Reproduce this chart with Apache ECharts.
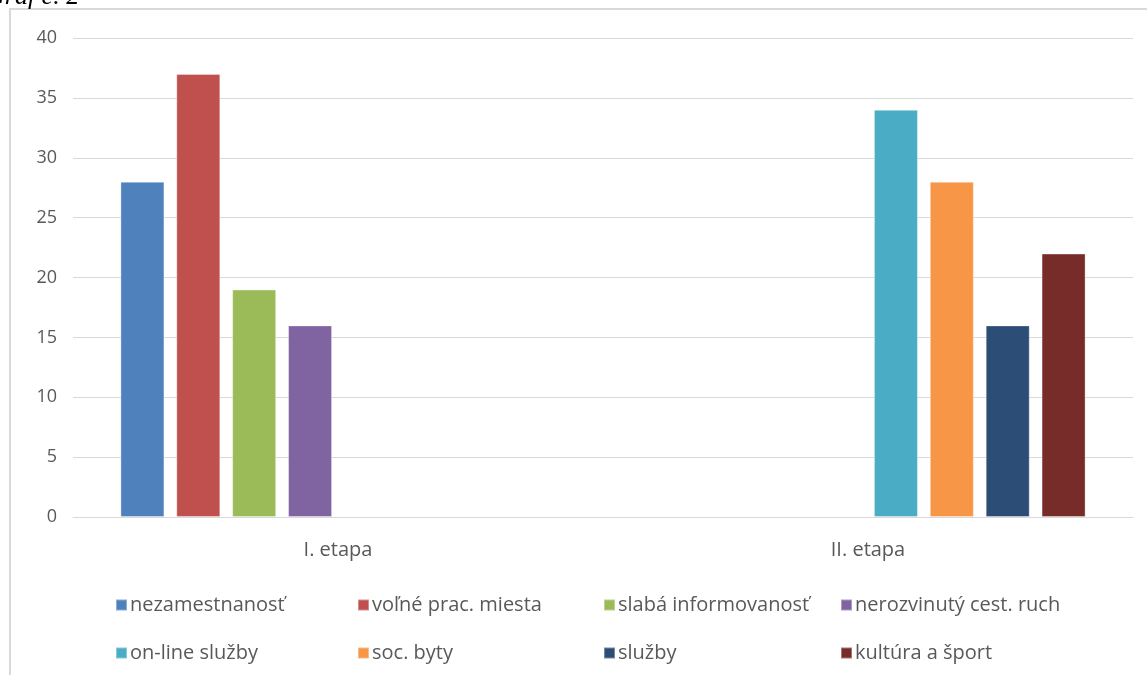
<!DOCTYPE html>
<html><head><meta charset="utf-8">
<script src="https://cdn.jsdelivr.net/npm/echarts@6/dist/echarts.min.js"></script>
<style>html,body{margin:0;padding:0;background:#fff}#c{width:1147px;height:675px}</style>
</head><body><div id="c"></div>
<script>
const categories = ['I. etapa', 'II. etapa'];
const seriesNames = ['nezamestnanosť', 'voľné prac. miesta', 'slabá informovanosť', 'nerozvinutý cest. ruch',
  'on-line služby', 'soc. byty', 'služby', 'kultúra a šport'];
const seriesValues = [
  [28, '-'], [37, '-'], [19, '-'], [16, '-'],
  ['-', 34], ['-', 28], ['-', 16], ['-', 22]
];
const colors = ['#4f81bd', '#c0504d', '#9bbb59', '#8064a2', '#4bacc6', '#f79646', '#2c4d75', '#772c2a'];
const yTicks = { min: 0, max: 40, interval: 5 };

const font = 'Open Sans';
const chart = echarts.init(document.getElementById('c'), null, { renderer: 'canvas' });
const legendCols = [110, 352, 598, 835];
const legends = legendCols.map((x, i) => ({
  orient: 'vertical', left: x, top: 590, itemWidth: 11, itemHeight: 11, itemGap: 28,
  icon: 'rect', selectedMode: false,
  textStyle: { fontFamily: font, fontSize: 20, color: '#595959', padding: [0, 0, 0, -2] },
  data: [seriesNames[i], seriesNames[i + 4]]
}));
chart.setOption({
  animation: false,
  color: colors,
  grid: { left: 73, right: 14, top: 38, bottom: 158 },
  graphic: [
    { type: 'rect', shape: { x: 10, y: 9, width: 1200, height: 700 }, style: { fill: 'none', stroke: '#d9d9d9', lineWidth: 2 } },
    { type: 'text', left: -14, top: -16, style: { text: 'Graf č. 2', font: 'italic 26px "Liberation Serif"', fill: '#000' } }
  ],
  legend: legends,
  xAxis: {
    type: 'category', data: categories,
    axisLine: { lineStyle: { color: '#d9d9d9', width: 1 } },
    axisTick: { show: false },
    axisLabel: { fontFamily: font, fontSize: 20, color: '#595959', margin: 23 }
  },
  yAxis: {
    type: 'value', min: yTicks.min, max: yTicks.max, interval: yTicks.interval,
    axisLine: { show: false }, axisTick: { show: false },
    splitLine: { lineStyle: { color: '#d9d9d9', width: 1 } },
    axisLabel: { fontFamily: font, fontSize: 18, color: '#595959', margin: 16 }
  },
  series: seriesNames.map((n, i) => ({
    name: n, type: 'bar', data: seriesValues[i], barWidth: 44, barGap: '27%',
    itemStyle: { color: colors[i], borderColor: 'rgba(255,255,255,0.35)', borderWidth: 1 }
  }))
});
</script></body></html>
